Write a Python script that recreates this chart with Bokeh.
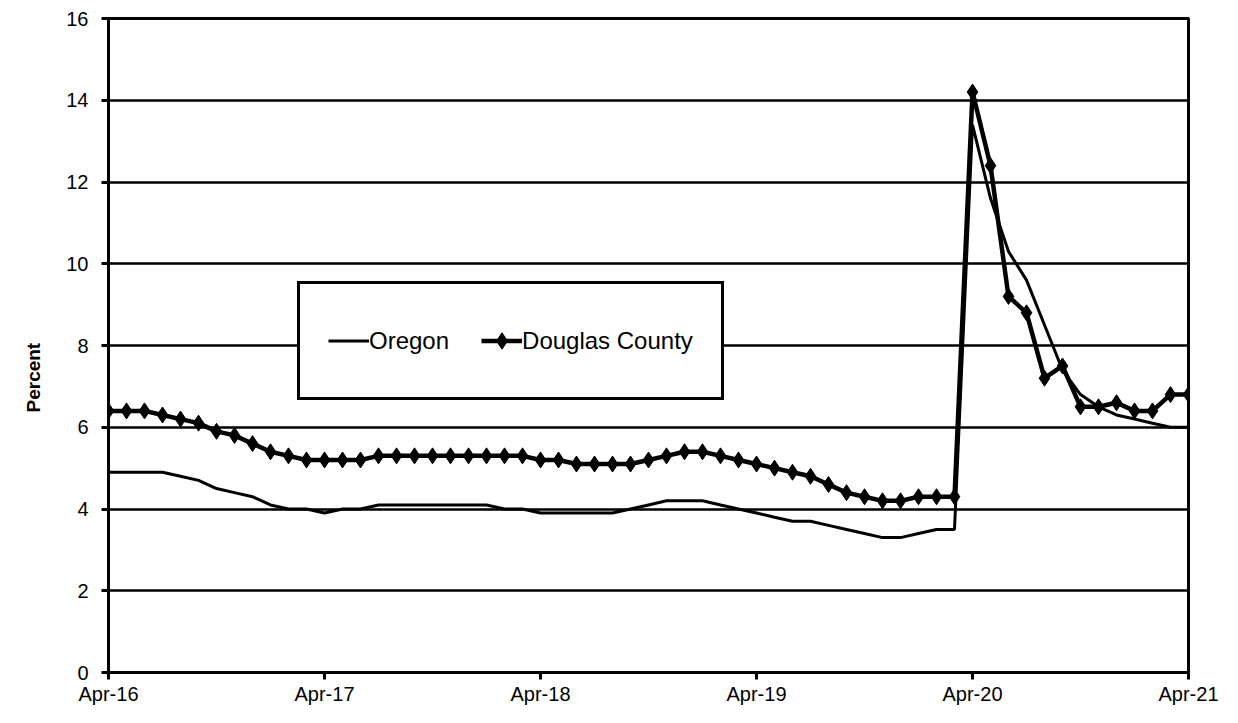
from bokeh.plotting import figure
from bokeh.models import Legend, LegendItem, FixedTicker, Range1d, Title
from bokeh.embed import file_html
from bokeh.resources import INLINE

# Monthly unemployment rate, Apr-2016 .. Apr-2021 (month index 0..60)
month_index = list(range(61))
oregon = [4.9, 4.9, 4.9, 4.9, 4.8, 4.7, 4.5, 4.4, 4.3, 4.1, 4.0, 4.0,
          3.9, 4.0, 4.0, 4.1, 4.1, 4.1, 4.1, 4.1, 4.1, 4.1, 4.0, 4.0,
          3.9, 3.9, 3.9, 3.9, 3.9, 4.0, 4.1, 4.2, 4.2, 4.2, 4.1, 4.0,
          3.9, 3.8, 3.7, 3.7, 3.6, 3.5, 3.4, 3.3, 3.3, 3.4, 3.5, 3.5,
          13.4, 11.6, 10.3, 9.6, 8.5, 7.4, 6.8, 6.5, 6.3, 6.2, 6.1, 6.0,
          6.0]
douglas = [6.4, 6.4, 6.4, 6.3, 6.2, 6.1, 5.9, 5.8, 5.6, 5.4, 5.3, 5.2,
           5.2, 5.2, 5.2, 5.3, 5.3, 5.3, 5.3, 5.3, 5.3, 5.3, 5.3, 5.3,
           5.2, 5.2, 5.1, 5.1, 5.1, 5.1, 5.2, 5.3, 5.4, 5.4, 5.3, 5.2,
           5.1, 5.0, 4.9, 4.8, 4.6, 4.4, 4.3, 4.2, 4.2, 4.3, 4.3, 4.3,
           14.2, 12.4, 9.2, 8.8, 7.2, 7.5, 6.5, 6.5, 6.6, 6.4, 6.4, 6.8,
           6.8]
x_tick_positions = [0, 12, 24, 36, 48, 60]
x_tick_labels = ["Apr-16", "Apr-17", "Apr-18", "Apr-19", "Apr-20", "Apr-21"]
y_ticks = [0, 2, 4, 6, 8, 10, 12, 14, 16]

FONT = "Liberation Sans"

p = figure(width=1230, height=715, output_backend="svg", toolbar_location=None,
           x_range=Range1d(0, 60), y_range=Range1d(0, 16),
           min_border_left=108, min_border_right=42, min_border_top=18,
           min_border_bottom=43)
p.background_fill_color = "white"
p.border_fill_color = "white"
p.outline_line_color = "black"
p.outline_line_width = 3

# axes
p.xaxis.ticker = FixedTicker(ticks=x_tick_positions)
p.xaxis.major_label_overrides = {k: v for k, v in zip(x_tick_positions, x_tick_labels)}
p.yaxis.ticker = FixedTicker(ticks=y_ticks)
for ax in (p.xaxis[0], p.yaxis[0]):
    ax.axis_line_color = "black"
    ax.axis_line_width = 3
    ax.major_tick_line_color = "black"
    ax.major_tick_line_width = 3
    ax.major_tick_in = 0
    ax.major_tick_out = 7
    ax.minor_tick_line_color = None
    ax.major_label_text_font = FONT
    ax.major_label_text_font_size = "20px"
    ax.major_label_text_color = "black"
p.xaxis.major_label_standoff = 3
p.yaxis.major_label_standoff = 13

p.xgrid.grid_line_color = None
p.ygrid.grid_line_color = "black"
p.ygrid.grid_line_width = 2.5
p.ygrid.ticker = FixedTicker(ticks=y_ticks)

# y-axis title as a vertical side title
p.add_layout(Title(text="Percent", align="left", offset=260,
                   text_font=FONT, text_font_size="19px",
                   text_font_style="bold", text_color="black",
                   standoff=39), "left")

# series
r_or = p.line(month_index, oregon, line_color="black", line_width=3)
r_dl = p.line(month_index, douglas, line_color="black", line_width=4.5)
r_dm = p.scatter(month_index, douglas, marker="diamond", size=16,
                 fill_color="black", line_color="black")

legend = Legend(items=[LegendItem(label="Oregon", renderers=[r_or]),
                       LegendItem(label="Douglas County", renderers=[r_dl, r_dm])],
                orientation="horizontal", location=(189, 272),
                padding=28, spacing=32, margin=0,
                glyph_width=41, glyph_height=57, label_height=57,
                label_standoff=0,
                label_text_font=FONT, label_text_font_size="24px",
                label_text_color="black",
                border_line_color="black", border_line_width=3,
                border_line_alpha=1.0,
                background_fill_color="white", background_fill_alpha=1)
p.add_layout(legend, "center")

open("out.html", "w").write(file_html(p, INLINE))
